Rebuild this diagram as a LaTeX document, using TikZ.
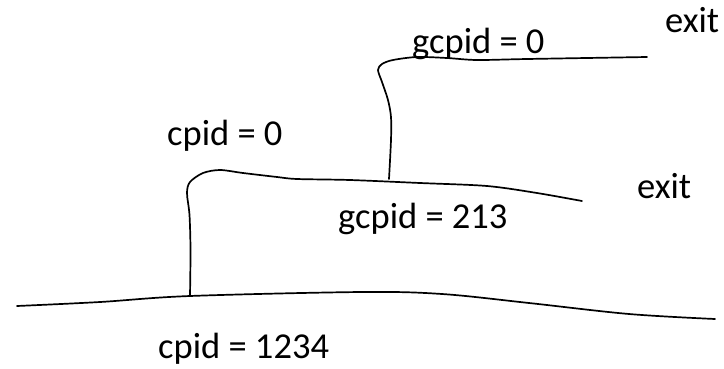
\documentclass[tikz,border=0pt]{standalone}
\usepackage{fontspec}
\setmainfont{Carlito}
\begin{document}
\begin{tikzpicture}[x=1pt,y=-1pt,
  sketch/.style={line width=1.7pt,line cap=round,line join=round},
  lbl/.style={anchor=base west,inner sep=0pt,font=\fontsize{36.5}{40}\selectfont}]
\useasboundingbox (0,0) rectangle (724,368);
\coordinate (j1) at (190,296);
\coordinate (j2) at (389,179);
% main process line
\draw[sketch] plot[smooth,tension=0.55] coordinates {(17,306) (100,302) (j1) (362,292) (442,294) (529,303) (629,314) (715,319)};
% child line
\draw[sketch] plot[smooth,tension=0.5] coordinates {(j1) (190.5,250) (189.5,215) (187,193) (190,182) (203,173) (220,170) (243,173) (277,177) (297,179) (350,180) (420,183) (487,186) (537,193) (582,201)};
% grandchild line
\draw[sketch] plot[smooth,tension=0.5] coordinates {(j2) (391,140) (391,117) (388,100) (382,82) (378,70) (382,64) (393,60) (417,57) (447,58) (477,60) (527,59) (647,57)};
\node[lbl] (t1) at (158,358) {cpid = 1234};
\node[lbl] (t2) at (338,228) {gcpid = 213};
\node[lbl] (t3) at (637,198) {exit};
\node[lbl] (t4) at (167,145) {cpid = 0};
\node[lbl] (t5) at (412,53) {gcpid = 0};
\node[lbl] (t6) at (665,32) {exit};
\end{tikzpicture}
\end{document}
